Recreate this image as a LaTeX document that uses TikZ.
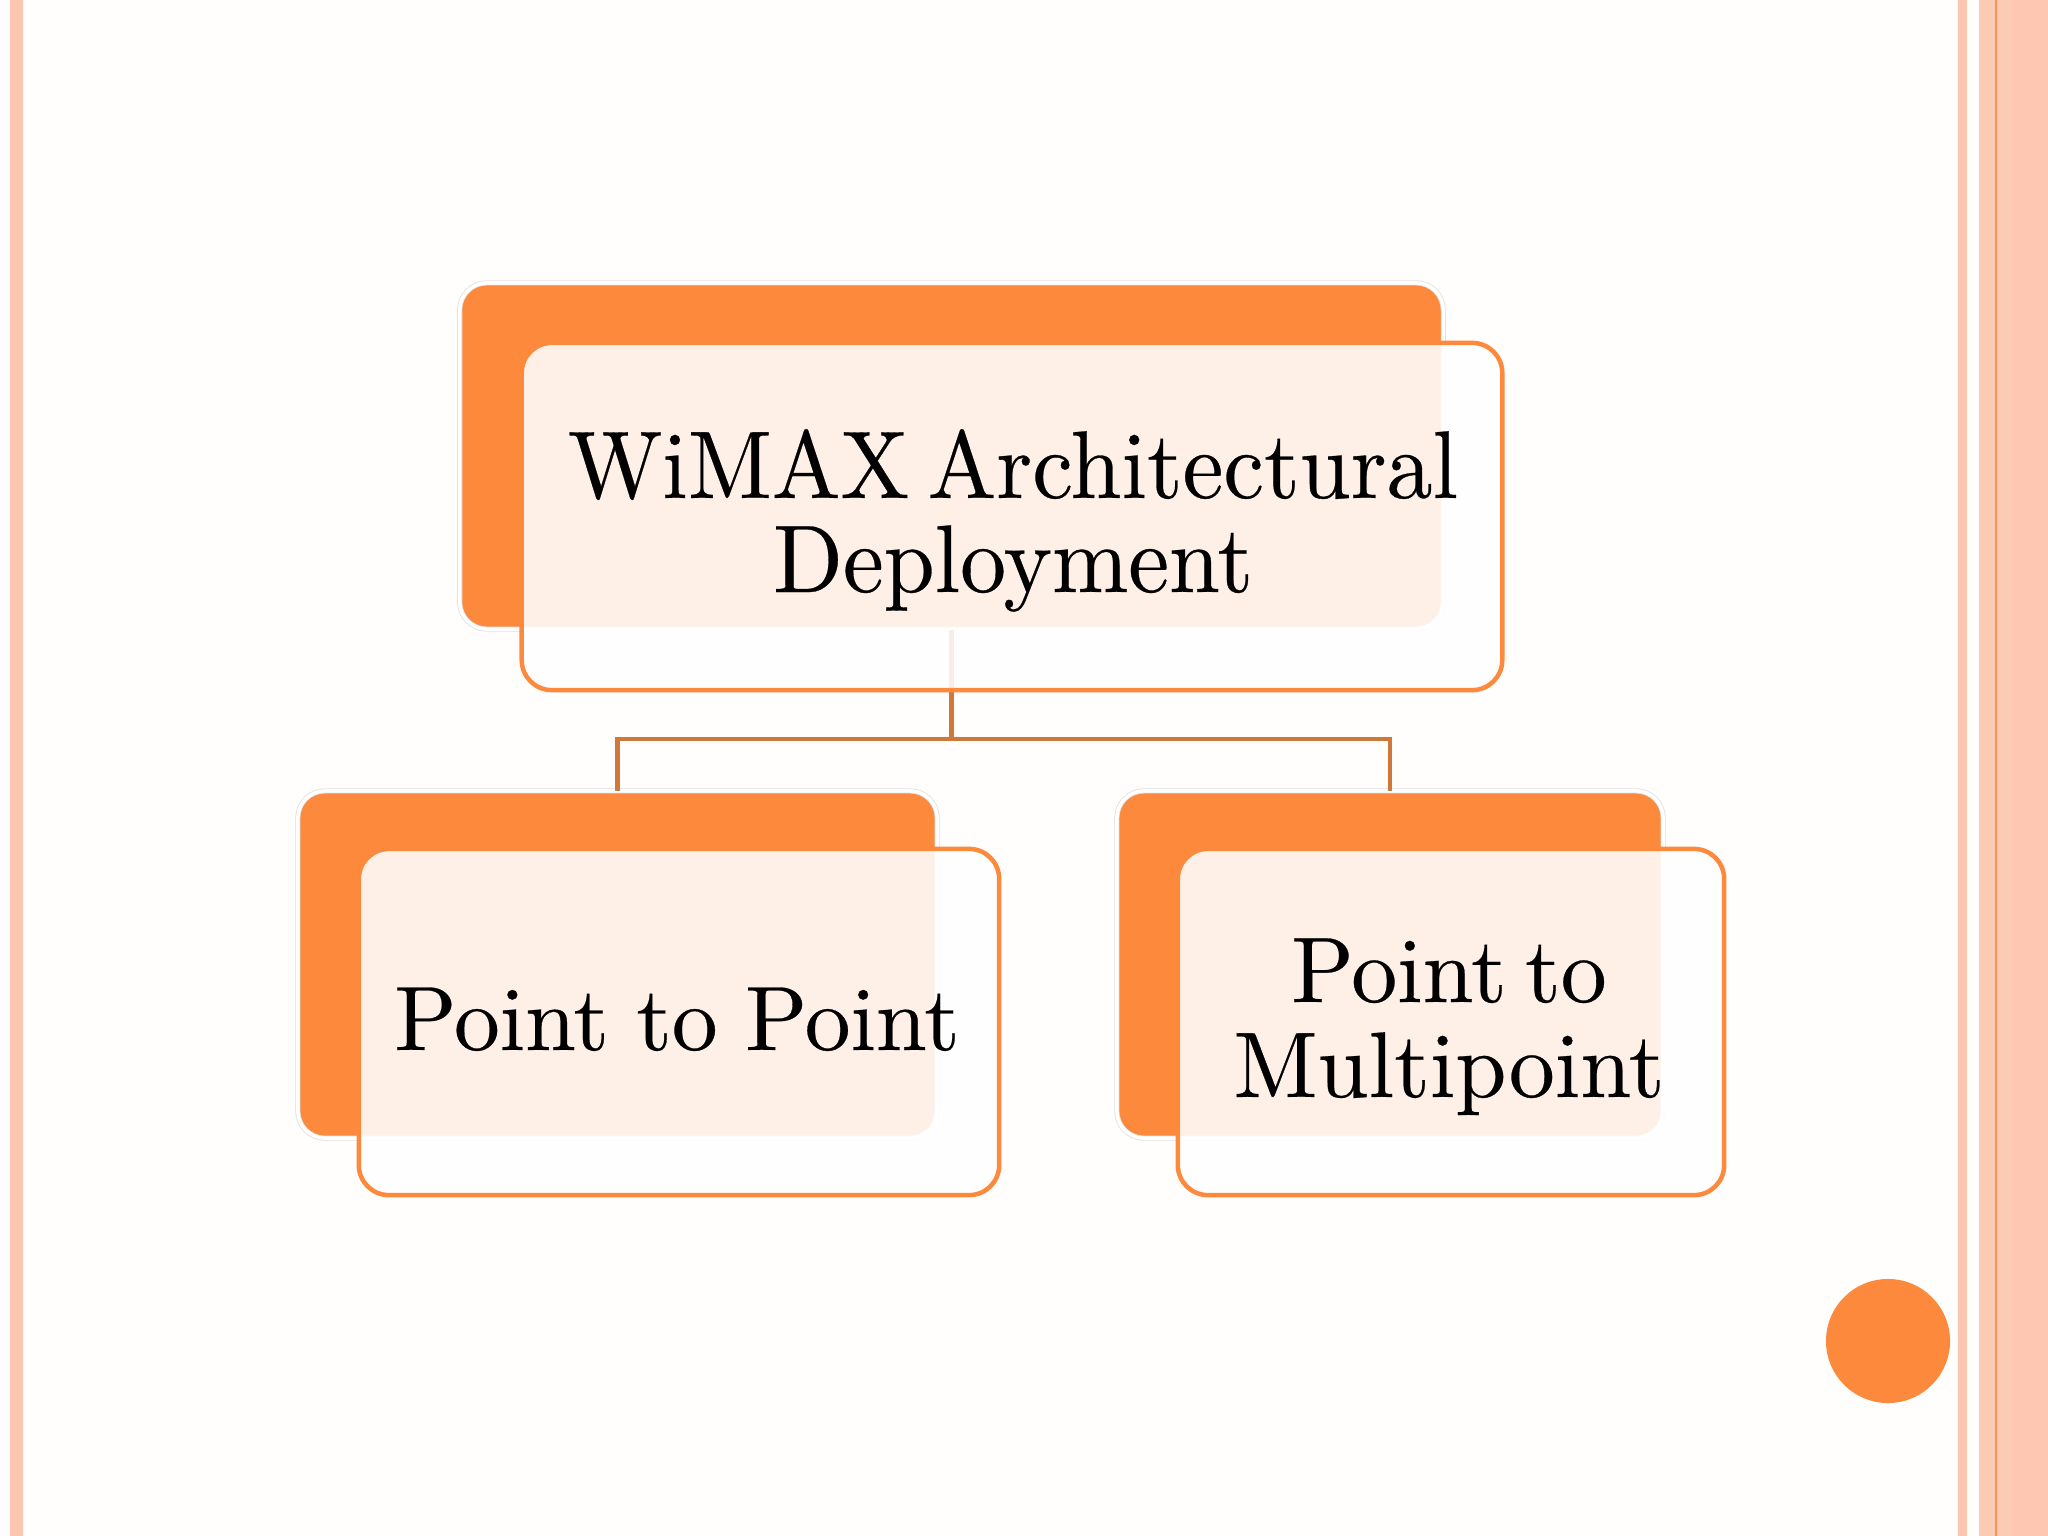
\documentclass[tikz,border=0pt]{standalone}
\usepackage{fontspec}
\newfontfamily\lmtop{lmroman10-regular.otf}[FakeStretch=0.955, WordSpace=0.6, FakeBold=0.3]
\newfontfamily\lmleft{lmroman10-regular.otf}[FakeStretch=1.0, WordSpace=0.9, FakeBold=0.3]
\newfontfamily\lmright{lmroman10-regular.otf}[FakeStretch=0.985, WordSpace=0.6, FakeBold=0.3]
\begin{document}
\begin{tikzpicture}[x=0.01cm,y=-0.01cm,
  backbox/.style={rectangle, rounded corners=0.27cm, fill=boxorange, draw=black!12, double=white, double distance=0.035cm, line width=0.008cm, inner sep=0pt},
  frontbox/.style={rectangle, rounded corners=0.3cm, fill=white, fill opacity=0.88, draw=boxorange, draw opacity=1, line width=0.045cm, inner sep=0pt},
  label/.style={align=center, text=black, inner sep=0pt, anchor=base},
  link/.style={draw=linkorange, line width=0.042cm}
]
\definecolor{boxorange}{HTML}{FD8A3C}
\definecolor{linkorange}{HTML}{D0773A}
\definecolor{stripe}{HTML}{FDC6B0}
\definecolor{stripeb}{HTML}{FCCBB4}
\definecolor{stripeline}{HTML}{F89257}
\definecolor{bg}{HTML}{FFFEFC}
\useasboundingbox (0,0) rectangle (2048,1536);
\fill[bg] (0,0) rectangle (2048,1536);
% side stripes
\fill[stripe] (10,0) rectangle (23,1536);
\fill[stripe] (1958,0) rectangle (1967,1536);
\fill[stripeb] (1979,0) rectangle (2048,1536);
\fill[stripe!80!stripeb] (2012,0) rectangle (2048,1536);
\fill[stripeline] (1995,0) rectangle (1997,1536);
% back boxes
\node[backbox, minimum width=9.83cm, minimum height=3.46cm] (topback) at (951.5,456) {};
\node[backbox, minimum width=6.39cm, minimum height=3.47cm] (lback) at (617.5,964.5) {};
\node[backbox, minimum width=5.46cm, minimum height=3.47cm] (rback) at (1390,964.5) {};
% connectors
\coordinate (junction) at (951.5,739);
\draw[link] (topback.south) -- (junction) -| (lback.north);
\draw[link] (junction) -| (rback.north);
% front boxes
\node[frontbox, minimum width=9.8cm, minimum height=3.47cm] (topfront) at (1012,516.5) {};
\node[frontbox, minimum width=6.4cm, minimum height=3.46cm] (lfront) at (679,1022) {};
\node[frontbox, minimum width=5.46cm, minimum height=3.46cm] (rfront) at (1451,1022) {};
% labels (base anchor = baseline of last line)
\node[label, font=\lmtop\fontsize{27.3}{26.75}\selectfont] (toptext) at (1013,592) {WiMAX Architectural\\Deployment};
\node[label, font=\lmleft\fontsize{26}{27}\selectfont] (ltext) at (677,1050) {Point to Point};
\node[label, font=\lmright\fontsize{26.5}{27}\selectfont] (rtext) at (1449,1097) {Point to\\Multipoint};
% dot
\node[circle, fill=boxorange, minimum size=1.24cm, inner sep=0pt] (dot) at (1888,1341) {};
\end{tikzpicture}
\end{document}
